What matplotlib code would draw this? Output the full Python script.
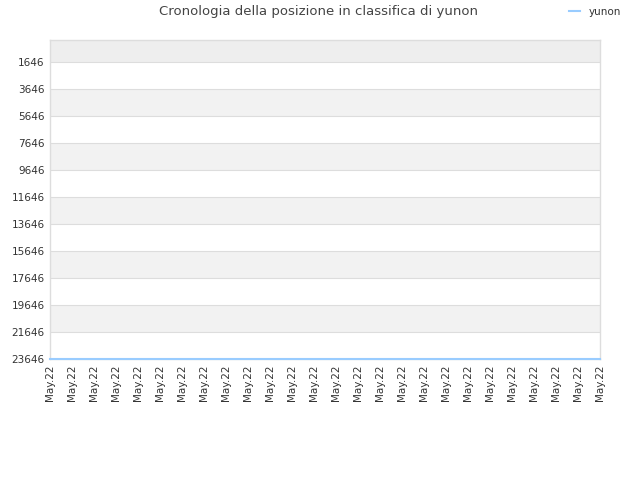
import matplotlib
matplotlib.use("Agg")
import matplotlib.pyplot as plt

dates = ["May.22"] * 26
ranks = [23646] * 26
yticks = [1646, 3646, 5646, 7646, 9646, 11646, 13646, 15646, 17646, 19646, 21646, 23646]
series_name = "yunon"
title = "Cronologia della posizione in classifica di yunon"

fig = plt.figure(figsize=(6.4, 4.8), dpi=100)
ax = fig.add_axes([50/640, 1-359/480, 550/640, 319/480])

x = list(range(len(dates)))
ymin_top = 16
ax.set_ylim(yticks[-1], ymin_top)
ax.set_xlim(0, len(dates) - 1)

# background bands
ax.axhspan(ymin_top, yticks[0], color="#eeeeee", zorder=0, lw=0)
for i in range(len(yticks) - 1):
    if i % 2 == 1:
        ax.axhspan(yticks[i], yticks[i+1], color="#f2f2f2", zorder=0, lw=0)
for yt in yticks:
    ax.axhline(yt, color="#dddddd", lw=0.8, zorder=1)

line, = ax.plot(x, ranks, color="#99ccff", lw=1.5, zorder=3, label=series_name, clip_on=False)

ax.set_yticks(yticks)
ax.set_yticklabels([str(v) for v in yticks], fontsize=7.5, color="#333333")
ax.set_xticks(x)
ax.set_xticklabels(dates, rotation=90, fontsize=7.5, color="#333333")
ax.tick_params(axis="both", length=0, pad=4)

for s in ["left", "right", "top", "bottom"]:
    ax.spines[s].set_color("#dddddd")
    ax.spines[s].set_linewidth(1)

fig.text(0.497, 0.975, title, ha="center", va="center", fontsize=9.5, color="#444444")
leg = fig.legend(handles=[line], labels=[series_name], loc="center", bbox_to_anchor=(0.93, 0.975),
                 frameon=False, fontsize=7.5, handlelength=1.0, handletextpad=0.9)
for t in leg.get_texts():
    t.set_color("#333333")
for h in leg.get_lines():
    h.set_linewidth(1.5)

fig.savefig("out.png", dpi=100)
